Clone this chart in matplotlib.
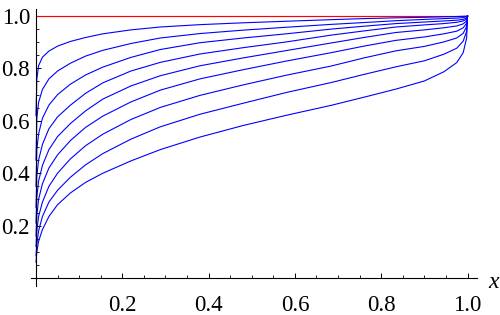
import matplotlib
matplotlib.use("Agg")
import matplotlib.pyplot as plt
from matplotlib.ticker import FixedLocator

# ---- data ----
x_vals = [0, 0.002, 0.006, 0.015, 0.03, 0.05, 0.08, 0.115, 0.155, 0.22, 0.288,
          0.38, 0.48, 0.58, 0.684, 0.76, 0.834, 0.9, 0.945, 0.975, 0.99, 0.998, 1.0]

curve_1 = [0.62, 0.76, 0.81, 0.843, 0.866, 0.885, 0.903, 0.918, 0.932, 0.947, 0.958,
           0.967, 0.974, 0.980, 0.986, 0.990, 0.993, 0.995, 0.997, 0.998, 0.999, 0.9995, 1.0]
curve_2 = [0.45, 0.61, 0.67, 0.72, 0.76, 0.79, 0.820, 0.847, 0.869, 0.895, 0.916,
           0.933, 0.946, 0.957, 0.968, 0.975, 0.982, 0.987, 0.990, 0.992, 0.994, 0.997, 1.0]
curve_3 = [0.35, 0.49, 0.55, 0.61, 0.66, 0.70, 0.740, 0.775, 0.805, 0.842, 0.872,
           0.898, 0.916, 0.932, 0.950, 0.961, 0.971, 0.977, 0.981, 0.984, 0.987, 0.992, 1.0]
curve_4 = [0.27, 0.39, 0.45, 0.51, 0.57, 0.615, 0.66, 0.705, 0.745, 0.790, 0.823,
           0.855, 0.879, 0.901, 0.927, 0.943, 0.958, 0.966, 0.971, 0.976, 0.981, 0.988, 1.0]
curve_5 = [0.21, 0.31, 0.37, 0.43, 0.49, 0.54, 0.59, 0.638, 0.683, 0.733, 0.772,
           0.810, 0.840, 0.868, 0.897, 0.918, 0.937, 0.947, 0.955, 0.962, 0.970, 0.981, 1.0]
curve_6 = [0.16, 0.24, 0.30, 0.36, 0.42, 0.47, 0.525, 0.575, 0.618, 0.672, 0.717,
           0.760, 0.795, 0.828, 0.860, 0.885, 0.907, 0.920, 0.932, 0.942, 0.955, 0.972, 1.0]
curve_7 = [0.12, 0.18, 0.235, 0.29, 0.35, 0.40, 0.455, 0.505, 0.549, 0.605, 0.651,
           0.697, 0.737, 0.774, 0.809, 0.840, 0.867, 0.884, 0.901, 0.916, 0.934, 0.960, 1.0]
curve_8 = [0.085, 0.13, 0.18, 0.235, 0.29, 0.335, 0.385, 0.432, 0.475, 0.530, 0.577,
           0.625, 0.667, 0.708, 0.746, 0.777, 0.806, 0.829, 0.854, 0.877, 0.904, 0.942, 1.0]
curve_9 = [0.06, 0.10, 0.14, 0.185, 0.235, 0.28, 0.325, 0.365, 0.400, 0.447, 0.490,
           0.538, 0.582, 0.621, 0.659, 0.690, 0.721, 0.752, 0.787, 0.822, 0.860, 0.916, 1.0]

ref_x = [0.0, 1.0]
ref_y = [1.0, 1.0]

x_ticks = [0.2, 0.4, 0.6, 0.8, 1.0]
x_tick_labels = ["0.2", "0.4", "0.6", "0.8", "1.0"]
y_ticks = [0.2, 0.4, 0.6, 0.8, 1.0]
y_tick_labels = ["0.2", "0.4", "0.6", "0.8", "1.0"]
minor_ticks = [0.05, 0.1, 0.15, 0.25, 0.3, 0.35, 0.45, 0.5, 0.55,
               0.65, 0.7, 0.75, 0.85, 0.9, 0.95]
axis_label = "x"

# ---- figure ----
fig = plt.figure(figsize=(5.0, 3.15), dpi=100)
ax = fig.add_axes([31.5 / 500, 1 - 286 / 315, (476.7 - 31.5) / 500, (286 - 9) / 315])

serif = ["Liberation Serif", "DejaVu Serif"]

ax.plot(ref_x, ref_y, color=(1, 0, 0), lw=0.85, solid_capstyle="butt")
for c in [curve_1, curve_2, curve_3, curve_4, curve_5, curve_6, curve_7, curve_8, curve_9]:
    ax.plot(x_vals, c, color=(0, 0, 1), lw=0.8)

ax.set_xlim(-0.0104, 1.0213)
ax.set_ylim(-0.0305, 1.0267)

for s in ["top", "right"]:
    ax.spines[s].set_visible(False)
ax.spines["left"].set_position(("data", 0))
ax.spines["bottom"].set_position(("data", 0))
for s in ["left", "bottom"]:
    ax.spines[s].set_linewidth(0.8)
    ax.spines[s].set_color("black")

ax.set_xticks(x_ticks)
ax.set_xticklabels(x_tick_labels)
ax.set_yticks(y_ticks)
ax.set_yticklabels(y_tick_labels)
ax.xaxis.set_minor_locator(FixedLocator(minor_ticks))
ax.yaxis.set_minor_locator(FixedLocator(minor_ticks))

ax.tick_params(axis="x", which="major", direction="in", length=3.6, width=0.7, pad=12)
ax.tick_params(axis="y", which="major", direction="in", length=3.6, width=0.7, pad=4.3)
ax.tick_params(which="minor", direction="in", length=2.0, width=0.6)

for lab in ax.get_xticklabels() + ax.get_yticklabels():
    lab.set_family(serif)
    lab.set_fontsize(16.5)

fig.text(494 / 500, 1 - 282 / 315, axis_label, family=serif, style="italic",
         fontsize=17, ha="center", va="center")

fig.savefig("out.png", dpi=100)
